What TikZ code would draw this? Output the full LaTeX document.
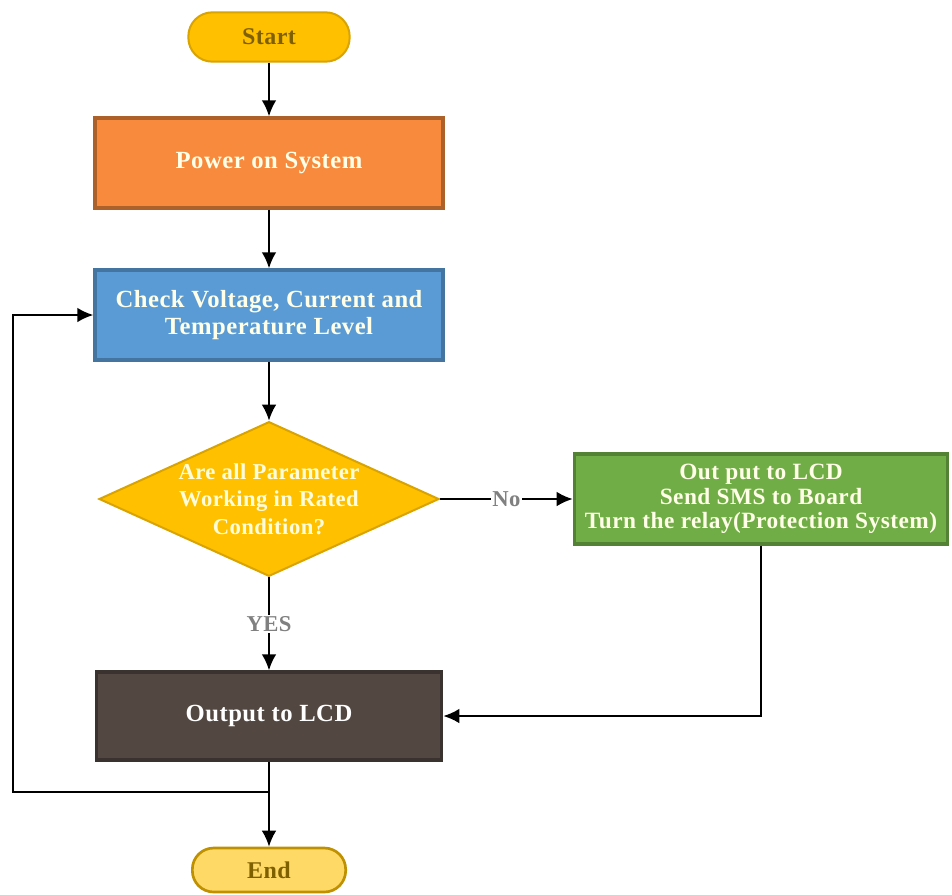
\documentclass[tikz,border=0pt]{standalone}
\usepackage{fontspec}
\setmainfont[LetterSpace=2]{Liberation Serif}
\usetikzlibrary{shapes.geometric,arrows.meta}
\definecolor{startgold}{HTML}{FFC000}
\definecolor{endgold}{HTML}{FFD966}
\definecolor{termtext}{HTML}{7F6000}
\definecolor{powerorange}{HTML}{F78A3C}
\definecolor{checkblue}{HTML}{5B9BD5}
\definecolor{faultgreen}{HTML}{70AD47}
\definecolor{lcdbrown}{HTML}{524741}
\begin{document}
\begin{tikzpicture}[x=0.75pt,y=-0.75pt,
  term/.style={rectangle, text=termtext, line width=1.5pt, font=\bfseries\fontsize{18}{20}\selectfont},
  stepbox/.style={rectangle, minimum width=261pt, minimum height=67.5pt, line width=2.5pt, text=white!90!yellow, align=center, font=\bfseries\fontsize{18.5}{20.5}\selectfont},
  arr/.style={-{Latex[length=12pt,width=11pt]}, line width=1.5pt},
  lbl/.style={fill=white, text=gray, inner sep=1pt, font=\bfseries\fontsize{17}{19}\selectfont}]
\useasboundingbox (0,0) rectangle (952,894);
\node[term, fill=startgold, draw=startgold!85!black, minimum width=121pt, minimum height=37pt, rounded corners=18pt] (start) at (269,37){Start};
\node[stepbox, fill=powerorange, draw=powerorange!70!black] (power) at (269,163){Power on System};
\node[stepbox, fill=checkblue, draw=checkblue!75!black] (check) at (269,315){Check Voltage, Current and\\Temperature Level};
\node[diamond, fill=startgold, draw=startgold!85!black, line width=1.5pt, inner sep=0pt, minimum width=255pt, minimum height=116pt,
  label={[align=center, text=white!85!yellow, font=\bfseries\fontsize{17}{20.5}\selectfont]center:Are all Parameter\\Working in Rated\\Condition?}] (rated) at (269,499){};
\node[stepbox, fill=faultgreen, draw=faultgreen!75!black, minimum width=280pt, font=\bfseries\fontsize{17.5}{18.5}\selectfont] (fault) at (761,499){Out put to LCD\\Send SMS to Board\\Turn the relay(Protection System)};
\node[stepbox, fill=lcdbrown, draw=lcdbrown!70!black, minimum width=259pt, minimum height=66pt, text=white] (lcd) at (269,716){Output to LCD};
\node[term, fill=endgold, draw=startgold!75!black, line width=2pt, minimum width=115pt, minimum height=33pt, rounded corners=16pt] (end) at (269,870){End};
\coordinate (split) at (269,792);
\coordinate (lcorner) at (13,792);
\draw[arr](start) -- (power);
\draw[arr](power) -- (check);
\draw[arr](check) -- (rated);
\draw[arr](rated) -- node[lbl]{No} (fault);
\draw[arr](rated) -- node[lbl]{YES} (lcd);
\draw[arr](fault.south) |- (lcd.east);
\draw[arr](lcd) -- (end);
\draw[arr](split) -- (lcorner) |- (check.west);

\end{tikzpicture}
\end{document}
